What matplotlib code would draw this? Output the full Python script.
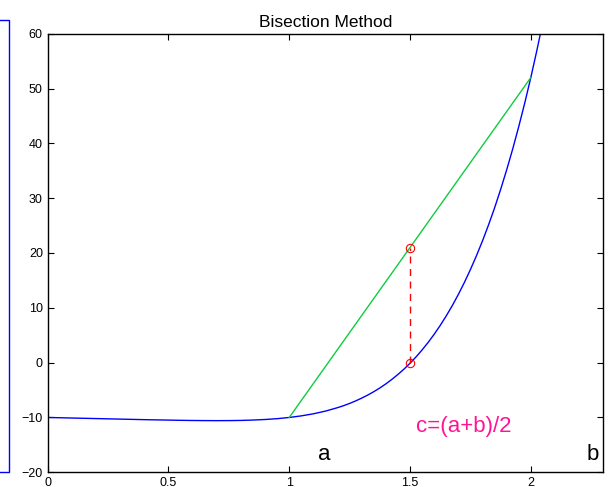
import matplotlib
matplotlib.use("Agg")
import matplotlib.pyplot as plt
from matplotlib.patches import Rectangle

plt.rcParams['font.family'] = ['Liberation Sans', 'DejaVu Sans']

# blue curve f(x)
curve_x = [0.0, 0.05, 0.1, 0.15, 0.2, 0.25, 0.3, 0.35, 0.4, 0.45, 0.5, 0.55, 0.6, 0.65,
           0.7, 0.75, 0.8, 0.85, 0.9, 0.95, 1.0, 1.05, 1.1, 1.15, 1.2, 1.225, 1.25, 1.275,
           1.3, 1.325, 1.35, 1.375, 1.4, 1.425, 1.45, 1.475, 1.5, 1.525, 1.55, 1.575,
           1.6, 1.625, 1.65, 1.675, 1.7, 1.725, 1.75, 1.775, 1.8, 1.825, 1.85, 1.875,
           1.9, 1.925, 1.95, 1.975, 2.0, 2.025, 2.05]
curve_y = [-10.0, -10.05, -10.1, -10.15, -10.2, -10.25, -10.3, -10.35, -10.4, -10.44,
           -10.48, -10.52, -10.55, -10.57, -10.58, -10.57, -10.54, -10.47, -10.37, -10.22,
           -10.0, -9.71, -9.33, -8.84, -8.21, -7.85, -7.44, -6.98,
           -6.47, -5.91, -5.30, -4.62, -3.87, -3.05, -2.15, -1.18, -0.11, 1.05, 2.32, 3.69,
           5.18, 6.79, 8.53, 10.41, 12.44, 14.62, 16.98, 19.50, 22.21, 25.12, 28.22, 31.58,
           35.15, 38.96, 43.05, 47.37, 52.0, 56.93, 62.15]

# secant (green) line endpoints
secant_x = [1.0, 2.0]
secant_y = [-10.0, 52.0]

# midpoint marker segment
mid_x = [1.5, 1.5]
mid_y = [-0.11, 21.0]

xticks = [0, 0.5, 1, 1.5, 2]
xticklabels = ['0', '0.5', '1', '1.5', '2']
yticks = [-20, -10, 0, 10, 20, 30, 40, 50, 60]

fig = plt.figure(figsize=(6.09, 4.87), dpi=100)
ax = fig.add_axes([0.0783, 0.0302, 0.9123, 0.9006])

ax.plot(curve_x, curve_y, color='#0000ff', lw=1.0)
ax.plot(secant_x, secant_y, color='#10cc40', lw=1.0)
ax.plot(mid_x, mid_y, color='#ff0000', lw=1.0, ls=(0, (5, 4)), marker='o',
        markersize=6, markerfacecolor='none', markeredgewidth=0.8)

ax.text(1.144, -16.8, 'a', fontsize=16, ha='center', va='center')
ax.text(2.255, -16.8, 'b', fontsize=16, ha='center', va='center')
ax.text(1.525, -11.7, 'c=(a+b)/2', fontsize=16, color='#ff1493', ha='left', va='center')

ax.set_xlim(0, 2.3)
ax.set_ylim(-20, 60)
ax.set_xticks(xticks)
ax.set_xticklabels(xticklabels)
ax.set_yticks(yticks)
ax.tick_params(direction='in', top=True, right=True, labelsize=9, length=4, width=0.8)
for s in ax.spines.values():
    s.set_linewidth(1.0)
ax.set_title('Bisection Method', fontsize=12.5, pad=5)

# partial blue box at left edge
fig.patches.append(Rectangle((-0.05, (487 - 472) / 487), 0.05 + 9.5 / 609, (472 - 20) / 487,
                             transform=fig.transFigure, fill=False, edgecolor='#0000ff',
                             lw=1.0, figure=fig))

fig.savefig('out.png', dpi=100)
